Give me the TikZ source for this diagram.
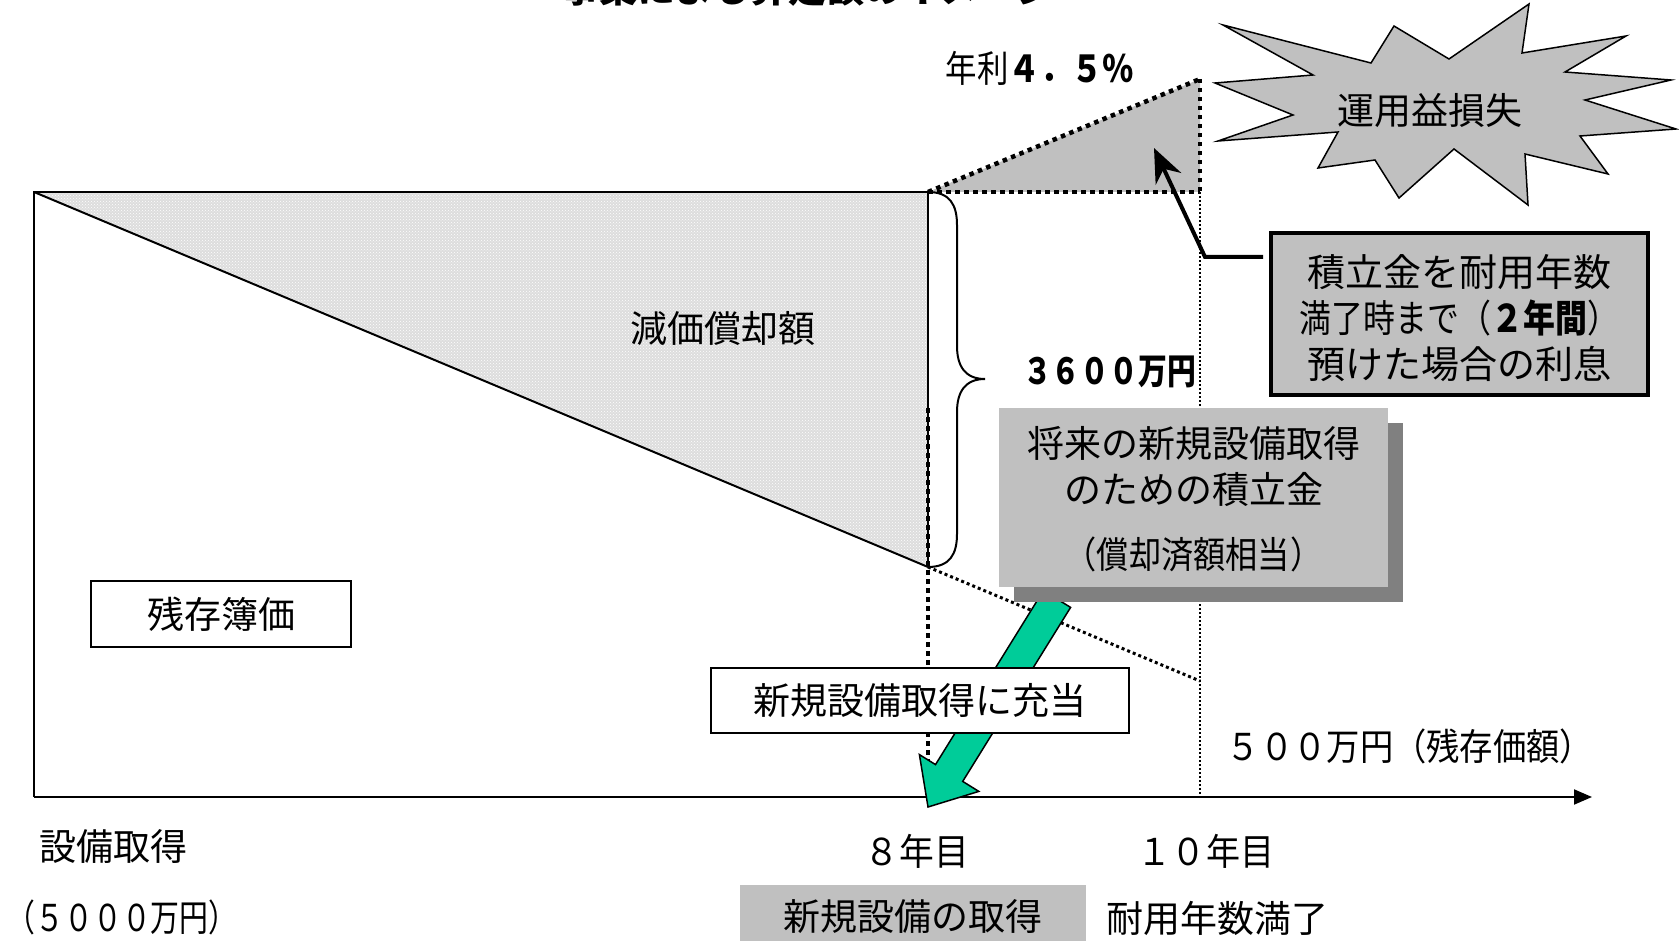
\documentclass[tikz,border=0pt]{standalone}
\usepackage{fontspec}
\setmainfont{Noto Sans CJK JP}
\usetikzlibrary{arrows.meta,patterns}
\definecolor{silver}{HTML}{C0C0C0}
\definecolor{shadowgray}{HTML}{808080}
\definecolor{arrowgreen}{HTML}{00CC99}
\newcommand\sx[2]{\scalebox{#1}[1]{#2}}
\begin{document}
\begin{tikzpicture}[x=1pt,y=-1pt,
  txt/.style={inner sep=0pt,font=\fontsize{37}{44}\selectfont},
  thinline/.style={line width=2pt,line join=miter},
  bigdots/.style={line width=4.5pt,dash pattern=on 4.5pt off 4.5pt},
  middots/.style={line width=3pt,dash pattern=on 3pt off 3pt},
  smalldots/.style={line width=1.6pt,dash pattern=on 2pt off 2pt},
  whitebox/.style={draw,line width=1.5pt,fill=white,inner sep=0pt,font=\fontsize{37}{44}\selectfont},
  thickbox/.style={draw,line width=4pt,fill=silver,inner sep=0pt},
]
\useasboundingbox (0,0) rectangle (1679,941);
\fill[white] (0,0) rectangle (1679,941);

% key points
\coordinate (TL) at (34,192);
\coordinate (BL) at (34,797);
\coordinate (TR) at (928,192);
\coordinate (DV) at (928,567);
\coordinate (AX) at (1592,797);
\coordinate (RT) at (1200,79);
\coordinate (RB) at (1200,192);
\coordinate (D10) at (1200,681);
\coordinate (V10) at (1200,797);
\coordinate (V8a) at (928,408);
\coordinate (V8b) at (928,790);

% title (cut at top edge, as in the reference)
\node[txt,anchor=base,font=\fontsize{38}{44}\selectfont\bfseries] (title) at (808,3) {事業による算定額のイメージ};

% depreciation area
\fill[gray!27] (TL) -- (TR) -- (DV) -- cycle;
\fill[pattern=crosshatch dots,pattern color=white] (TL) -- (TR) -- (DV) -- cycle;

% interest triangle
\fill[silver] (TR) -- (RT) -- (RB) -- cycle;

% main lines
\draw[thinline] (BL) -- (TL) -- (TR) -- (DV);
\draw[thinline] (TL) -- (DV);
\draw[thinline,-{Triangle[length=18pt,width=15pt]}] (BL) -- (AX);

% dotted lines
\draw[bigdots] (TR) -- (RT);
\draw[bigdots] (RT) -- (RB);
\draw[bigdots] (TR) -- (RB);
\draw[bigdots] (V8a) -- (V8b);
\draw[middots] (DV) -- (D10);
\draw[smalldots] (RB) -- (V10);

% brace
\draw[line width=2pt] (TR) .. controls (950,192) and (957,205) .. (957,225) -- (957,346)
  .. controls (957,366) and (965,379) .. (985,379)
  .. controls (965,379) and (957,392) .. (957,412) -- (957,534)
  .. controls (957,554) and (950,567) .. (DV);

% starburst
\draw[line width=1.5pt,fill=silver,line join=miter]
  (1223,25) -- (1371,63) -- (1394,26) -- (1449,59) -- (1529,4) -- (1522,53) -- (1626,36)
  -- (1565,72) -- (1671,80) -- (1585,100) -- (1676,129) -- (1580,136) -- (1608,174)
  -- (1525,154) -- (1528,205) -- (1454,149) -- (1399,198) -- (1375,160) -- (1318,168)
  -- (1338,132) -- (1218,141) -- (1293,115) -- (1215,83) -- (1313,75) -- cycle;
\node[txt] (burst) at (1430,110) {運用益損失};

% green arrow
\draw[line width=1.5pt,fill=arrowgreen,line join=miter]
  (1043.4,590.6) -- (1070.6,607.4) -- (962.7,781.4) -- (978.8,791.4) -- (928,807)
  -- (919.4,754.6) -- (935.5,764.6) -- cycle;

% fund box with shadow
\node[fill=shadowgray,minimum width=389pt,minimum height=179pt,inner sep=0pt] (shadow) at (1208.5,512) {};
\node[fill=silver,minimum width=389pt,minimum height=179pt,inner sep=0pt] (fund) at (1193.5,497.5) {};
\node[txt,align=center,anchor=north] (fundtxt) at (1193.5,426) {将来の新規設備取得\\[2pt]のための積立金\\[21pt]\sx{0.87}{（償却済額相当）}};

% interest box and arrow
\node[thickbox,minimum width=377pt,minimum height=161pt] (interest) at (1459.5,314) {};
\node[txt,align=center,font=\fontsize{38}{46}\selectfont] (interesttxt) at (1459.5,318)
  {積立金を耐用年数\\\sx{0.84}{満了時まで（\textbf{２年間}）}\\預けた場合の利息};
\coordinate (AS) at (1263,257);
\coordinate (AC) at (1205,257);
\coordinate (ATip) at (1154,148);
\draw[line width=4pt,-{Stealth[length=34pt,width=28pt]}] (AS) -- (AC) -- (ATip);

% boxes
\node[whitebox,minimum width=418pt,minimum height=65pt] (apply) at (920,700.5) {新規設備取得に充当};
\node[whitebox,minimum width=260pt,minimum height=66pt] (zanzon) at (221,614) {残存簿価};

% labels
\node[txt] (rate) at (1040,68) {\sx{0.85}{年利\textbf{４．５％}}};
\node[txt] (dep) at (723,328) {減価償却額};
\node[txt,font=\fontsize{36}{44}\selectfont\bfseries] (amount) at (1109.5,372) {\sx{0.8}{３６００万円}};
\node[txt] (resid) at (1410,746) {\sx{0.9}{５００万円（残存価額）}};
\node[txt] (acq) at (113,846) {設備取得};
\node[txt] (acqamt) at (122,917) {\sx{0.78}{（５０００万円）}};
\node[txt] (y8) at (917,851) {\sx{0.94}{８年目}};
\node[txt] (y10) at (1206,851) {\sx{0.92}{１０年目}};
\node[fill=silver,minimum width=346pt,minimum height=64pt,inner sep=0pt] (newacqbox) at (913,917) {};
\node[txt] (newacq) at (913,917) {新規設備の取得};
\node[txt] (life) at (1217,918) {耐用年数満了};
\end{tikzpicture}
\end{document}
